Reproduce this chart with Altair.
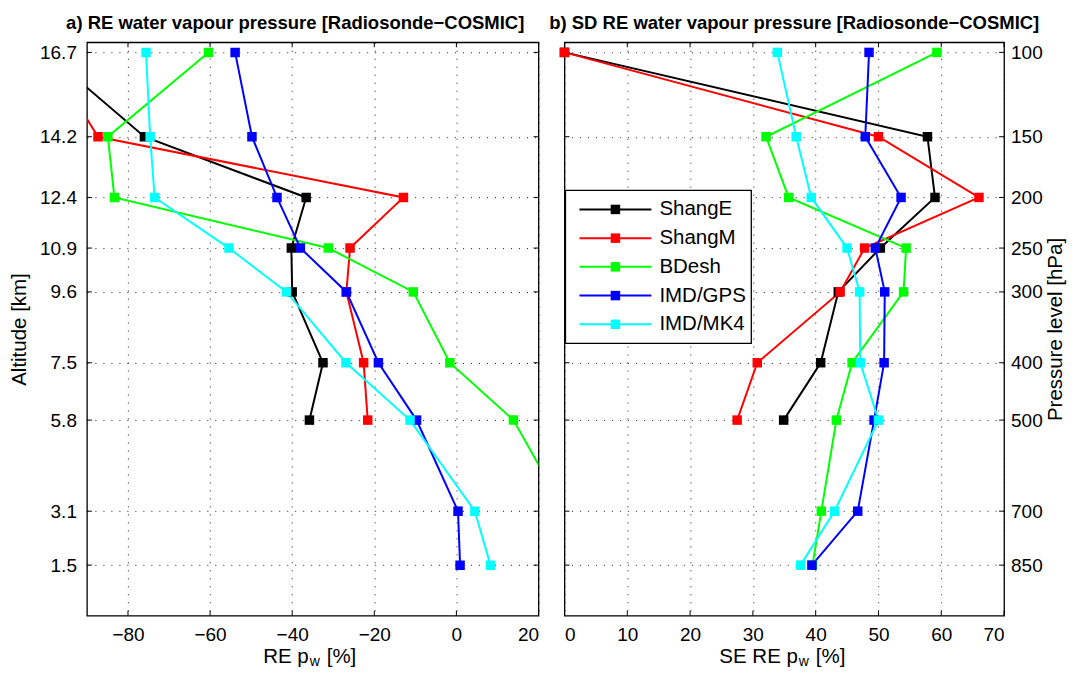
import altair as alt
import pandas as pd

# ---------------- data ----------------
altitudes = [16.7, 14.2, 12.4, 10.9, 9.6, 7.5, 5.8, 3.1, 1.5]
pressures = [100, 150, 200, 250, 300, 400, 500, 700, 850]
series = ["ShangE", "ShangM", "BDesh", "IMD/GPS", "IMD/MK4"]
colors = ["#000000", "#ff0000", "#00ff00", "#0000ff", "#00ffff"]

# a) RE water vapour pressure [%]
re_shange = [-100, -76.0, -36.6, -40.2, -40.0, -32.5, -35.8, None, None]
re_shangm = [-100, -87.3, -12.9, -25.9, -26.8, -22.6, -21.6, None, None]
re_bdesh = [-60.4, -84.9, -83.3, -31.2, -10.5, -1.6, 13.9, 26.4, 28.0]
re_imdgps = [-53.9, -49.8, -43.7, -38.0, -26.8, -19.0, -9.7, 0.4, 0.9]
re_imdmk4 = [-75.6, -74.6, -73.5, -55.4, -41.4, -26.9, -11.3, 4.5, 8.3]

# b) SD RE water vapour pressure [%]
sd_shange = [0, 57.8, 59.0, 50.3, 43.6, 40.8, 34.9, None, None]
sd_shangm = [0, 50.0, 66.0, 47.8, 43.9, 30.7, 27.5, None, None]
sd_bdesh = [59.3, 32.1, 35.7, 54.4, 54.0, 45.8, 43.3, 40.9, 39.5]
sd_imdgps = [48.5, 47.9, 53.6, 49.5, 51.0, 50.9, 49.3, 46.7, 39.4]
sd_imdmk4 = [33.9, 36.9, 39.3, 45.0, 47.0, 47.1, 50.0, 43.0, 37.6]

re_x_ticks = [-80, -60, -40, -20, 0, 20]
sd_x_ticks = [0, 10, 20, 30, 40, 50, 60, 70]


def make_df(all_vals):
    rows = []
    for name, vals in zip(series, all_vals):
        for i, (a, v) in enumerate(zip(altitudes, vals)):
            if v is None:
                continue
            rows.append({"series": name, "alt": a, "val": v, "lev": i})
    return pd.DataFrame(rows)


re_df = make_df([re_shange, re_shangm, re_bdesh, re_imdgps, re_imdmk4])
sd_df = make_df([sd_shange, sd_shangm, sd_bdesh, sd_imdgps, sd_imdmk4])
one = pd.DataFrame({"k": [0]})
leg_df = pd.DataFrame({"series": series})
ytick_df = pd.DataFrame({"alt": altitudes})

# ---------------- style ----------------
FONT = "Liberation Sans"
FS = 19        # tick labels
TFS = 20.5     # axis titles
W1, W2, H = 452, 440, 574
YDOM = [0, 17]
TL = 5         # inward tick length

color = alt.Color("series:N", scale=alt.Scale(domain=series, range=colors), legend=None)


def data_layers(df, xdom, xticks, yaxis, clip_pts, width):
    x = alt.X("val:Q", scale=alt.Scale(domain=xdom, nice=False, zero=False),
              axis=alt.Axis(values=xticks, title=None, grid=True))
    y = alt.Y("alt:Q", scale=alt.Scale(domain=YDOM, nice=False, zero=False), axis=yaxis)
    xt_df = pd.DataFrame({"val": xticks})
    tick_style = dict(color="black", strokeWidth=1)
    xt_bot = alt.Chart(xt_df).mark_rule(**tick_style).encode(
        x="val:Q", y=alt.value(H), y2=alt.value(H - TL))
    xt_top = alt.Chart(xt_df).mark_rule(**tick_style).encode(
        x="val:Q", y=alt.value(0), y2=alt.value(TL))
    yt_l = alt.Chart(ytick_df).mark_rule(**tick_style).encode(
        y="alt:Q", x=alt.value(0), x2=alt.value(TL))
    yt_r = alt.Chart(ytick_df).mark_rule(**tick_style).encode(
        y="alt:Q", x=alt.value(width - TL), x2=alt.value(width))
    lines = alt.Chart(df).mark_line(strokeWidth=2, clip=True).encode(
        x=x, y=y, color=color, order=alt.Order("lev:Q"))
    pts = alt.Chart(df).mark_point(shape="square", filled=True, size=90, opacity=1,
                                   strokeWidth=0, clip=clip_pts).encode(x=x, y=y, color=color)
    return alt.layer(lines, xt_bot, xt_top, yt_l, yt_r, pts)


def xtitle(prefix, right_edge):
    base_y = H + 47
    a = alt.Chart(one).mark_text(text=prefix, align="right", baseline="alphabetic",
                                 font=FONT, fontSize=TFS, color="black").encode(
        x=alt.value(right_edge), y=alt.value(base_y))
    b = alt.Chart(one).mark_text(text="w", align="left", baseline="alphabetic",
                                 font=FONT, fontSize=14, color="black").encode(
        x=alt.value(right_edge + 1), y=alt.value(base_y + 3))
    c = alt.Chart(one).mark_text(text="[%]", align="left", baseline="alphabetic",
                                 font=FONT, fontSize=TFS, color="black").encode(
        x=alt.value(right_edge + 18), y=alt.value(base_y))
    return [a, b, c]


left_yaxis = alt.Axis(values=altitudes, format=".1f", title="Altitude [km]", grid=True,
                      titlePadding=10, labelPadding=10.5)

label_expr = "[" + ",".join("'%d'" % p for p in pressures) + "][indexof([" + \
    ",".join(str(a) for a in altitudes) + "], datum.value)]"
right_yaxis = alt.Axis(values=altitudes, orient="right", labelExpr=label_expr,
                       title="Pressure level [hPa]", grid=True, titleAngle=270,
                       titleBaseline="top", titlePadding=3, labelPadding=6.5)

left = alt.layer(
    data_layers(re_df, [-90, 20], re_x_ticks, left_yaxis, True, W1),
    *xtitle("RE p", 222),
).properties(
    width=W1, height=H,
    title=alt.TitleParams("a) RE water vapour pressure [Radiosonde\u2212COSMIC]", dx=-17.5),
)

# manual legend (line + square per series)
ly = alt.Y("series:N", scale=alt.Scale(type="point", domain=series, range=[167.3, 282.3],
                                        padding=0), axis=None)
leg_box = alt.Chart(one).mark_rect(fill="white", stroke="black", strokeWidth=1.3).encode(
    x=alt.value(1), x2=alt.value(187), y=alt.value(148.3), y2=alt.value(301.3))
leg_rules = alt.Chart(leg_df).mark_rule(strokeWidth=2).encode(
    x=alt.value(15), x2=alt.value(87), y=ly, color=color)
leg_pts = alt.Chart(leg_df).mark_point(shape="square", filled=True, size=90, opacity=1,
                                       strokeWidth=0).encode(x=alt.value(51), y=ly, color=color)
leg_txt = alt.Chart(leg_df).mark_text(align="left", baseline="middle", font=FONT, fontSize=TFS,
                                      color="black").encode(x=alt.value(95), y=ly, text="series:N")
legend = alt.layer(leg_box, leg_rules, leg_pts, leg_txt)

right = alt.layer(
    data_layers(sd_df, [0, 70], sd_x_ticks, right_yaxis, False, W2),
    legend,
    *xtitle("SE RE p", 233.6),
).resolve_scale(y="independent").properties(
    width=W2, height=H,
    title=alt.TitleParams("b) SD RE water vapour pressure [Radiosonde\u2212COSMIC]", dx=10),
)

chart = alt.hconcat(left, right, spacing=26, bounds="flush").properties(
    padding={"left": 0, "top": 5, "right": 0, "bottom": 0},
    background="white",
).configure_view(
    stroke="black", strokeWidth=1.3, fill="white",
).configure_axis(
    labelFont=FONT, labelFontSize=FS, labelColor="black",
    titleFont=FONT, titleFontSize=TFS, titleFontWeight="normal", titleColor="black",
    ticks=False, tickSize=0, domain=False, labelPadding=10,
    gridColor="black", gridDash=[1, 7], gridWidth=1, gridOpacity=0.9,
).configure_title(
    font=FONT, fontSize=18.5, fontWeight="bold", color="black", anchor="middle",
    baseline="alphabetic", offset=8.8,
)

chart.save("out.html", embed_options={"renderer": "svg", "actions": False})
